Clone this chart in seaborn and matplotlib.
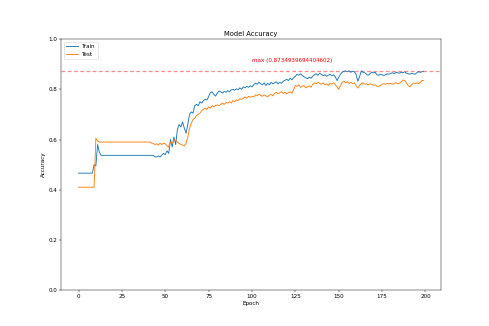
import numpy as np
import matplotlib
matplotlib.use("Agg")
import matplotlib.pyplot as plt
import seaborn as sns

train_acc = [
    0.466, 0.466, 0.466, 0.466, 0.466, 0.466, 0.466, 0.466, 0.466, 0.500,
    0.495, 0.580, 0.550, 0.537, 0.537, 0.537, 0.537, 0.537, 0.537, 0.537,
    0.537, 0.537, 0.537, 0.537, 0.537, 0.537, 0.537, 0.537, 0.537, 0.537,
    0.537, 0.537, 0.537, 0.537, 0.537, 0.537, 0.537, 0.537, 0.537, 0.537,
    0.537, 0.537, 0.537, 0.537, 0.532, 0.530, 0.535, 0.530, 0.538, 0.545,
    0.540, 0.555, 0.545, 0.600, 0.570, 0.610, 0.580, 0.640, 0.660, 0.650,
    0.670, 0.645, 0.625, 0.660, 0.700, 0.710, 0.705, 0.735, 0.740, 0.735,
    0.750, 0.745, 0.755, 0.760, 0.758, 0.770, 0.787, 0.790, 0.780, 0.773,
    0.785, 0.793, 0.790, 0.785, 0.792, 0.788, 0.795, 0.790, 0.798, 0.800,
    0.796, 0.802, 0.798, 0.806, 0.800, 0.810, 0.806, 0.812, 0.808, 0.814,
    0.810, 0.818, 0.825, 0.820, 0.828, 0.822, 0.818, 0.826, 0.815, 0.824,
    0.818, 0.828, 0.822, 0.826, 0.830, 0.822, 0.828, 0.824, 0.832, 0.836,
    0.840, 0.835, 0.844, 0.838, 0.846, 0.852, 0.860, 0.856, 0.862, 0.855,
    0.850, 0.846, 0.842, 0.848, 0.844, 0.852, 0.858, 0.862, 0.856, 0.864,
    0.860, 0.854, 0.858, 0.852, 0.856, 0.860, 0.854, 0.858, 0.850, 0.835,
    0.848, 0.860, 0.868, 0.872, 0.8734939694404602, 0.870, 0.8734939694404602, 0.868, 0.872, 0.870,
    0.860, 0.832, 0.850, 0.8734939694404602, 0.868, 0.866, 0.860, 0.856, 0.862, 0.868,
    0.866, 0.868, 0.858, 0.856, 0.860, 0.858, 0.855, 0.858, 0.862, 0.860,
    0.864, 0.866, 0.862, 0.868, 0.866, 0.864, 0.868, 0.866, 0.870, 0.864,
    0.862, 0.860, 0.864, 0.862, 0.860, 0.866, 0.870, 0.868, 0.870, 0.872,
]

test_acc = [
    0.410, 0.410, 0.410, 0.410, 0.410, 0.410, 0.410, 0.410, 0.410, 0.410,
    0.605, 0.595, 0.590, 0.590, 0.590, 0.590, 0.590, 0.590, 0.590, 0.590,
    0.590, 0.590, 0.590, 0.590, 0.590, 0.590, 0.590, 0.590, 0.590, 0.590,
    0.590, 0.590, 0.590, 0.590, 0.590, 0.590, 0.590, 0.590, 0.590, 0.590,
    0.590, 0.590, 0.586, 0.585, 0.580, 0.583, 0.578, 0.585, 0.580, 0.585,
    0.583, 0.575, 0.570, 0.590, 0.585, 0.600, 0.595, 0.590, 0.585, 0.580,
    0.578, 0.575, 0.585, 0.610, 0.645, 0.665, 0.680, 0.685, 0.695, 0.700,
    0.705, 0.715, 0.720, 0.725, 0.720, 0.730, 0.725, 0.735, 0.730, 0.735,
    0.738, 0.735, 0.740, 0.745, 0.740, 0.748, 0.745, 0.750, 0.745, 0.755,
    0.750, 0.758, 0.755, 0.762, 0.760, 0.765, 0.770, 0.765, 0.772, 0.768,
    0.772, 0.770, 0.778, 0.775, 0.780, 0.776, 0.772, 0.778, 0.774, 0.770,
    0.776, 0.780, 0.774, 0.784, 0.788, 0.782, 0.786, 0.790, 0.784, 0.788,
    0.782, 0.786, 0.790, 0.784, 0.800, 0.815, 0.812, 0.818, 0.808, 0.812,
    0.815, 0.806, 0.810, 0.814, 0.808, 0.820, 0.826, 0.822, 0.828, 0.824,
    0.820, 0.826, 0.818, 0.822, 0.816, 0.824, 0.820, 0.826, 0.818, 0.810,
    0.800, 0.815, 0.828, 0.832, 0.826, 0.830, 0.824, 0.828, 0.822, 0.826,
    0.815, 0.805, 0.815, 0.823, 0.826, 0.820, 0.822, 0.818, 0.822, 0.820,
    0.816, 0.818, 0.812, 0.812, 0.815, 0.820, 0.823, 0.820, 0.824, 0.822,
    0.824, 0.820, 0.823, 0.826, 0.822, 0.824, 0.830, 0.837, 0.835, 0.825,
    0.815, 0.810, 0.818, 0.825, 0.822, 0.826, 0.822, 0.828, 0.835, 0.835,
]

epochs = list(range(len(train_acc)))
series_labels = ["Train", "Test"]

dpi = 40.833
fig, ax = plt.subplots(figsize=(490 / dpi, 326 / dpi), dpi=dpi)

sns.lineplot(x=epochs, y=train_acc, ax=ax, label=series_labels[0], color="#1f77b4", linewidth=1.6)
sns.lineplot(x=epochs, y=test_acc, ax=ax, label=series_labels[1], color="#ff7f0e", linewidth=1.6)

max_acc = max(train_acc)
ax.axhline(max_acc, color="#ff8c8c", linestyle=(0, (3, 2)), linewidth=2.2, zorder=1)
ax.text(100, max_acc + 0.03, f"max ({max_acc})", color="#ff0000", ha="left", va="bottom")

ax.set_ylim(0, 1)
ax.set_title("Model Accuracy")
ax.set_xlabel("Epoch")
ax.set_ylabel("Accuracy")
ax.legend(loc="upper left")

fig.savefig("out.png", dpi=dpi)
